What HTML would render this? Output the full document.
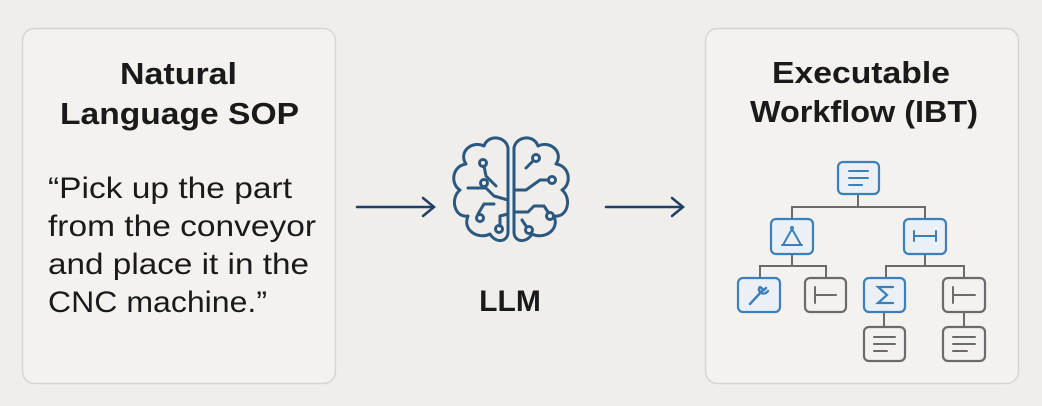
<!DOCTYPE html>
<html><head><meta charset="utf-8"><style>
html,body{margin:0;padding:0;background:#efeeeb;}
svg{display:block;font-family:"Liberation Sans",sans-serif;}
</style></head><body>
<svg width="1042" height="406" viewBox="0 0 1042 406">
<rect width="1042" height="406" fill="#efeeeb"/>
<rect x="22.5" y="28.5" width="313" height="355" rx="12" fill="#f3f2ef" stroke="#d6d5d1" stroke-width="1.5"/>
<rect x="705.5" y="28.5" width="313" height="355" rx="12" fill="#f3f2ef" stroke="#d6d5d1" stroke-width="1.5"/>
<g font-weight="bold" font-size="31" fill="#1a1a1a">
<text x="120" y="84" textLength="117" lengthAdjust="spacingAndGlyphs">Natural</text>
<text x="60" y="124" textLength="239" lengthAdjust="spacingAndGlyphs">Language SOP</text>
<text x="772" y="83" textLength="178" lengthAdjust="spacingAndGlyphs">Executable</text>
<text x="750" y="122" textLength="228" lengthAdjust="spacingAndGlyphs">Workflow (IBT)</text>
</g>
<g font-size="29.5" fill="#1a1a1a">
<text x="48" y="198" textLength="244" lengthAdjust="spacingAndGlyphs">“Pick up the part</text>
<text x="48" y="236" textLength="268" lengthAdjust="spacingAndGlyphs">from the conveyor</text>
<text x="48" y="274" textLength="261" lengthAdjust="spacingAndGlyphs">and place it in the</text>
<text x="48" y="312" textLength="219" lengthAdjust="spacingAndGlyphs">CNC machine.”</text>
</g>
<text x="510" y="311" font-size="30" font-weight="bold" fill="#1a1a1a" text-anchor="middle">LLM</text>
<g stroke="#1f3f66" stroke-width="2.5" fill="none" stroke-linecap="round">
<line x1="357" y1="207" x2="433" y2="207"/><polyline points="423,198 434,207 423,216"/>
<line x1="606" y1="207" x2="682" y2="207"/><polyline points="672,198 683,207 672,216"/>
</g>
<g stroke="#2a5880" stroke-width="3" fill="none" stroke-linecap="round" stroke-linejoin="round">
<path d="M508,148 C506,136 488,134 484,146 C472,140 458,152 466,164 C452,166 450,184 460,190 C450,198 454,218 468,216 C462,230 478,240 490,234 C496,244 508,242 508,232 Z"/>
<path d="M514,148 C516,136 534,134 538,146 C550,140 564,152 556,164 C570,166 572,184 562,190 C572,198 568,218 554,216 C560,230 544,240 532,234 C526,244 514,242 514,232 Z"/>
<path d="M496,186 L486,176 L484,166"/><circle cx="483" cy="163" r="3.5"/>
<path d="M508,200 L494,196 L486,188 L468,188"/>
<path d="M478,214 L484,204 L494,204"/><circle cx="480" cy="218" r="3.5"/>
<path d="M508,214 L500,216 L500,226"/><circle cx="499" cy="229" r="3.5"/>
<circle cx="484" cy="183" r="3.5" />
<path d="M526,168 L532,162"/><circle cx="536" cy="158" r="3.5"/>
<path d="M514,190 L526,190 L540,180 L548,180"/><circle cx="552" cy="180" r="3.5"/>
<path d="M514,212 L528,212 L534,206 L544,206 L548,212"/><circle cx="550" cy="216" r="3.5"/>
<path d="M522,220 L526,226"/><circle cx="529" cy="230" r="3.5"/>
</g>
<g stroke="#6b6b6b" stroke-width="2" fill="none">
<path d="M858,194 V207 M792,219 V207 H925 V219"/>
<path d="M792,254 V266 M760,278 V266 H826 V278"/>
<path d="M925,254 V266 M886,278 V266 H964 V278"/>
<path d="M884,312 V327 M964,312 V327"/>
</g>
<g stroke-width="2.2" fill="#f3f2ef">
<rect x="838" y="162" width="41" height="32" rx="5" stroke="#3d7fb8" fill="#eaf0f5"/>
<rect x="771" y="219" width="42" height="35" rx="5" stroke="#3d7fb8" fill="#eaf0f5"/>
<rect x="904" y="219" width="42" height="35" rx="5" stroke="#3d7fb8" fill="#eaf0f5"/>
<rect x="738" y="278" width="42" height="34" rx="5" stroke="#3d7fb8" fill="#eaf0f5"/>
<rect x="805" y="278" width="41" height="34" rx="5" stroke="#6b6b6b"/>
<rect x="864" y="278" width="41" height="34" rx="5" stroke="#3d7fb8" fill="#eaf0f5"/>
<rect x="943" y="278" width="42" height="34" rx="5" stroke="#6b6b6b"/>
<rect x="864" y="327" width="41" height="34" rx="5" stroke="#6b6b6b"/>
<rect x="943" y="327" width="42" height="34" rx="5" stroke="#6b6b6b"/>
</g>
<g stroke-width="2" fill="none" stroke-linecap="round">
<path stroke="#3d7fb8" d="M849,171 H868 M849,178 H868 M849,185 H862"/>
<path stroke="#3d7fb8" d="M792,229 L783,245 M792,229 L801,245 M782,245 H802"/><circle cx="792" cy="228" r="2" fill="#3d7fb8" stroke="none"/>
<path stroke="#3d7fb8" d="M914,236 H936 M914,231 V241 M936,231 V241"/>
<path stroke="#3d7fb8" d="M750,304 L762,291 M760,287 C756,291 764,297 768,291 M760,287 L764,290 L766,288" stroke-width="2.4"/>
<path stroke="#3d7fb8" d="M893,287 H878 L887,295 L878,303 H893" stroke-width="2.2"/>
<path stroke="#6b6b6b" d="M815,287 V303 M815,295 H836"/>
<path stroke="#6b6b6b" d="M953,287 V303 M953,295 H975"/>
<path stroke="#6b6b6b" d="M874,337 H895 M874,344 H895 M874,351 H887"/>
<path stroke="#6b6b6b" d="M953,337 H975 M953,344 H975 M953,351 H967"/>
</g>
</svg>
</body></html>
